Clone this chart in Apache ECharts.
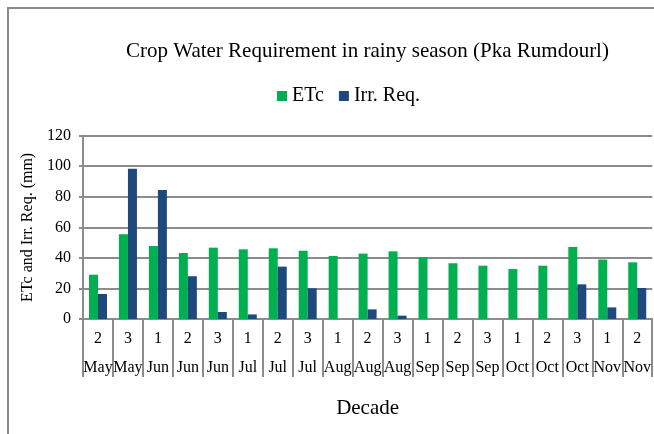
<!DOCTYPE html>
<html>
<head>
<meta charset="UTF-8">
<title>Crop Water Requirement</title>
<script src="https://cdn.jsdelivr.net/npm/echarts@6/dist/echarts.min.js"></script>
</head>
<body style="margin:0;">
<div id="chart" style="width:654px;height:434px;"></div>
<script>
// decade number + month for each bar group
var decades = ['2', '3', '1', '2', '3', '1', '2', '3', '1', '2', '3', '1', '2', '3', '1', '2', '3', '1', '2'];
var months = ['May', 'May', 'Jun', 'Jun', 'Jun', 'Jul', 'Jul', 'Jul', 'Aug', 'Aug', 'Aug', 'Sep', 'Sep', 'Sep', 'Oct', 'Oct', 'Oct', 'Nov', 'Nov'];
var etc = [29, 55.5, 47.8, 43.2, 46.7, 45.6, 46.3, 44.7, 41.3, 42.8, 44.3, 40.4, 36.5, 34.9, 32.7, 34.9, 47.2, 38.9, 37.1];
var irrReq = [16.4, 98.4, 84.5, 28, 4.6, 3.0, 34.3, 20.1, 0, 6.3, 2.2, 0, 0, 0, 0, 0, 22.7, 7.6, 20.3];

var cats = [];
for (var i = 0; i < decades.length; i++) {
    cats.push(decades[i] + '\n' + months[i]);
}

var font = 'Liberation Serif, Times New Roman, serif';
var gray = '#8c8c8c';
var chart = echarts.init(document.getElementById('chart'));
var option = {
    animation: false,
    textStyle: { fontFamily: font, color: '#000' },
    graphic: [{
        type: 'rect',
        shape: { x: 8, y: 8, width: 700, height: 500 },
        style: { fill: 'none', stroke: '#8a8a8a', lineWidth: 2 }
    }],
    title: {
        text: 'Crop Water Requirement in rainy season (Pka Rumdourl)',
        left: 121,
        top: 36,
        textStyle: { fontFamily: font, fontSize: 21, fontWeight: 'normal', color: '#000' }
    },
    legend: {
        data: ['ETc', 'Irr. Req.'],
        left: 272,
        top: 81,
        icon: 'rect',
        itemWidth: 10,
        itemHeight: 10,
        itemGap: 15,
        textStyle: { fontFamily: font, fontSize: 20, color: '#000' }
    },
    grid: { left: 83, right: 1, top: 135.7, bottom: 115 },
    xAxis: {
        type: 'category',
        data: cats,
        name: 'Decade',
        nameLocation: 'middle',
        nameGap: 79,
        nameTextStyle: { fontFamily: font, fontSize: 21, color: '#000' },
        axisLine: { lineStyle: { color: gray, width: 2 } },
        axisTick: { show: true, interval: 0, length: 58, lineStyle: { color: gray, width: 2 } },
        axisLabel: { interval: 0, fontFamily: font, fontSize: 16, color: '#000', lineHeight: 29, margin: 5 }
    },
    yAxis: {
        type: 'value',
        min: 0,
        max: 120,
        interval: 20,
        name: 'ETc and Irr. Req. (mm)',
        nameLocation: 'middle',
        nameGap: 32,
        nameTextStyle: { fontFamily: font, fontSize: 16, color: '#000' },
        axisLine: { show: true, lineStyle: { color: gray, width: 2 } },
        axisTick: { show: true, length: 4, lineStyle: { color: gray, width: 2 } },
        axisLabel: { fontFamily: font, fontSize: 16, color: '#000', margin: 12 },
        splitLine: { lineStyle: { color: gray, width: 2 } }
    },
    series: [
        {
            name: 'ETc',
            type: 'bar',
            data: etc,
            barWidth: 9,
            barGap: '0%',
            itemStyle: { color: '#00b050' }
        },
        {
            name: 'Irr. Req.',
            type: 'bar',
            data: irrReq,
            barWidth: 9,
            itemStyle: { color: '#1f497d' }
        }
    ]
};
chart.setOption(option);
</script>
</body>
</html>
